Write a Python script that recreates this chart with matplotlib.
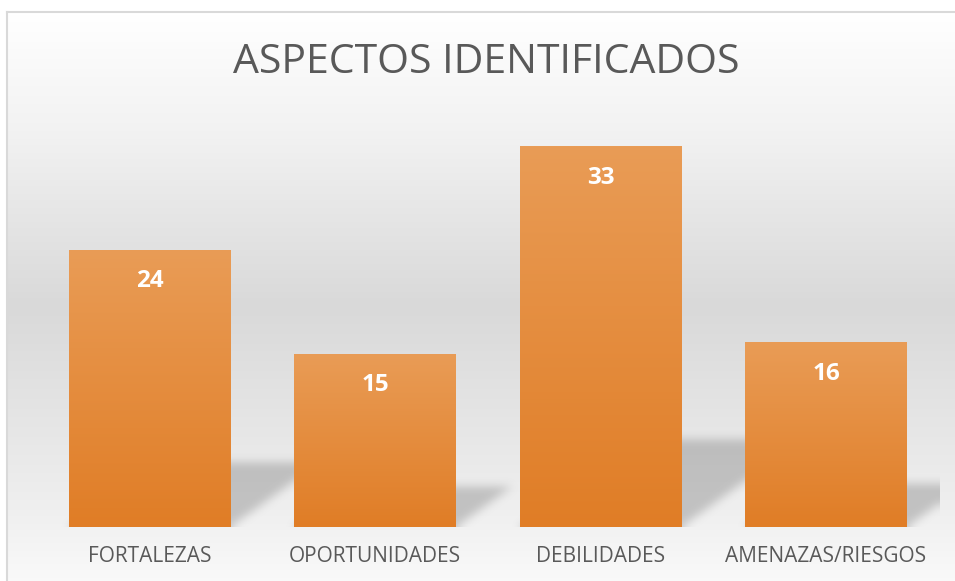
import numpy as np
import matplotlib.pyplot as plt
from matplotlib.colors import LinearSegmentedColormap

categories = ["FORTALEZAS", "OPORTUNIDADES", "DEBILIDADES", "AMENAZAS/RIESGOS"]
values = [24, 15, 33, 16]
title = "ASPECTOS IDENTIFICADOS"

W, H = 955, 581
fig = plt.figure(figsize=(W / 100, H / 100), dpi=100)

# background gradient (white -> gray -> white), like the Excel chart area
bg = fig.add_axes([0, 0, 1, 1])
bg.set_xlim(0, W)
bg.set_ylim(H, 0)
bg.axis("off")
bg_cmap = LinearSegmentedColormap.from_list(
    "bg", [(0, "#ffffff"), (0.2, "#f2f2f2"), (0.5, "#d9d9d9"), (0.85, "#efefef"), (1, "#fcfcfc")])
grad = np.linspace(0, 1, 300).reshape(-1, 1)
bg.imshow(grad, cmap=bg_cmap, extent=[7, W, 600, 12], aspect="auto", zorder=0)
bg.plot([7, W], [12, 12], color="#d9d9d9", lw=1.5, zorder=1)
bg.plot([7, 7], [12, H], color="#d9d9d9", lw=1.5, zorder=1)

bg.text(486, 63, title, fontsize=29.5, color="#595959", family="Open Sans",
        ha="center", va="center")

# plot area
px_per_unit = 11.545
ymax = 35
left, right, bottom = 36.75, 938.75, 527
top = bottom - ymax * px_per_unit
ax = fig.add_axes([left / W, 1 - bottom / H, (right - left) / W, (bottom - top) / H])
ax.set_facecolor("none")
ax.set_xlim(-0.5, len(values) - 0.5)
ax.set_ylim(0, ymax)
for s in ax.spines.values():
    s.set_visible(False)
ax.set_yticks([])
ax.set_xticks(range(len(categories)))
ax.set_xticklabels(categories, fontsize=15, color="#595959", family="Open Sans")
ax.tick_params(axis="x", length=0, pad=14)

width = 0.714
x = np.arange(len(values))

# perspective shadows, rasterised and blurred
nx, ny = 900, 420
gx = np.linspace(-0.5, len(values) - 0.5, nx)
gy = np.linspace(0, ymax, ny)
XX, YY = np.meshgrid(gx, gy)
mask = np.zeros_like(XX)
unit_x = (right - left) / len(values)  # px per x unit
for xi, v in zip(x, values):
    hs = 0.23 * v
    off = 0.32 * v * px_per_unit / unit_x
    t = YY / hs
    x0 = xi - width / 2 + off * t
    x1 = xi + width / 2 + off * t
    inside = (YY <= hs) & (XX >= x0) & (XX <= x1)
    mask = np.maximum(mask, inside.astype(float))


def box_blur(a, k, axis):
    pad = [(0, 0), (0, 0)]
    pad[axis] = (k // 2, k // 2)
    ap = np.pad(a, pad, mode="edge")
    c = np.cumsum(ap, axis=axis)
    c = np.insert(c, 0, 0, axis=axis)
    n = a.shape[axis]
    if axis == 0:
        return (c[k:k + n] - c[:n]) / k
    return (c[:, k:k + n] - c[:, :n]) / k


for _ in range(3):
    mask = box_blur(mask, 9, 0)
    mask = box_blur(mask, 9, 1)

rgba = np.zeros((ny, nx, 4))
rgba[..., :3] = 0.45
rgba[..., 3] = mask * 0.36
ax.imshow(rgba, extent=[-0.5, len(values) - 0.5, 0, ymax], origin="lower",
          aspect="auto", zorder=1, interpolation="bilinear")

# bars with vertical orange gradient
bars = ax.bar(x, values, width=width, color="none", zorder=2)
bar_cmap = LinearSegmentedColormap.from_list("bar", ["#e07d26", "#e99c56"])
for b, v in zip(bars, values):
    x0 = b.get_x()
    im = ax.imshow(np.linspace(0, 1, 200).reshape(-1, 1), cmap=bar_cmap, origin="lower",
                   extent=[x0, x0 + b.get_width(), 0, v], aspect="auto", zorder=2)
    im.set_clip_path(b)
    ax.text(b.get_x() + b.get_width() / 2, v - 31.5 / px_per_unit, str(v),
            ha="center", va="center", color="white", fontsize=17.5,
            fontweight="bold", family="Open Sans", zorder=3)

ax.set_xlim(-0.5, len(values) - 0.5)
ax.set_ylim(0, ymax)

fig.savefig("out.png", dpi=100)
